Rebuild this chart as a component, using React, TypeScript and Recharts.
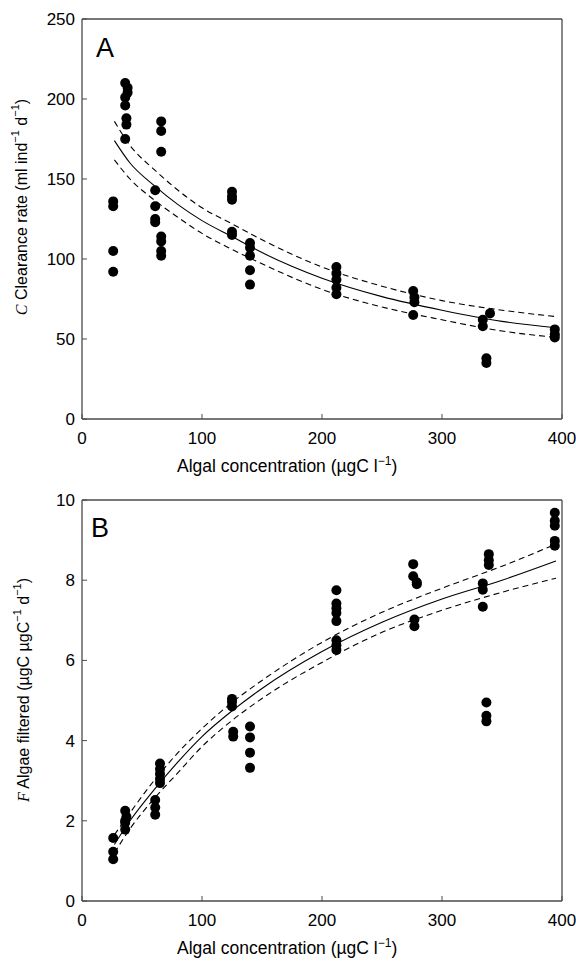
import React from 'react';
import { ComposedChart, Scatter, Line, XAxis, YAxis, Customized } from 'recharts';

const FONT = '"Liberation Sans", Arial, sans-serif';
const SERIF = '"Liberation Serif", "Times New Roman", serif';
const FRAME = '#4a4a4a';

const xTicks = [0, 100, 200, 300, 400];
const clearanceTicks = [0, 50, 100, 150, 200, 250];
const filteredTicks = [0, 2, 4, 6, 8, 10];

// measured points, panel A (x = algal conc, y = clearance rate)
const clearanceX = [
  26, 26, 26, 26,
  36, 38, 38, 36, 36, 37, 37, 36,
  61, 61, 61, 61,
  66, 66, 66, 66, 66, 66, 66,
  125, 125, 125, 125, 125,
  140, 140, 140, 140, 140,
  212, 212, 212, 212, 212,
  276, 277, 277, 276,
  340, 334, 334, 337, 337,
  394, 394, 394,
];
const clearanceY = [
  136, 133, 105, 92,
  210, 207, 204, 201, 196, 188, 184, 175,
  143, 133, 125, 123,
  186, 180, 167, 114, 111, 105, 102,
  142, 139, 137, 117, 115,
  110, 107, 102, 93, 84,
  95, 91, 87, 82, 78,
  80, 76, 73, 65,
  66, 62, 58, 38, 35,
  56, 53, 51,
];

// measured points, panel B (x = algal conc, y = algae filtered)
const filteredX = [
  26, 26, 26,
  36, 37, 36, 36, 36,
  61, 61, 61,
  65, 65, 65, 65, 65,
  125, 125, 125, 126, 126,
  140, 140, 140, 140,
  212, 212, 212, 212, 212, 212, 212, 212,
  276, 276, 279, 279, 277, 277,
  339, 339, 339, 334, 334, 334, 337, 337, 337,
  394, 394, 394, 394, 394,
];
const filteredY = [
  1.57, 1.23, 1.04,
  2.25, 2.1, 2.0, 1.95, 1.78,
  2.52, 2.33, 2.15,
  3.43, 3.29, 3.17, 3.04, 2.94,
  5.04, 4.96, 4.85, 4.22, 4.1,
  4.35, 4.08, 3.7, 3.32,
  7.75, 7.42, 7.3, 7.18, 6.98, 6.5, 6.38, 6.26,
  8.4, 8.1, 7.95, 7.9, 7.02, 6.85,
  8.65, 8.5, 8.38, 7.92, 7.76, 7.34, 4.95, 4.62, 4.48,
  9.68, 9.48, 9.36, 8.98, 8.86,
];

// fitted curve + confidence band
const fitX = [27, 40, 60, 80, 100, 125, 150, 200, 250, 300, 350, 395];
const clearanceFit = [174, 160, 146, 134, 124, 114, 104, 88, 76.5, 68, 61, 57];
const clearanceUpper = [186, 171, 156, 143, 132, 122, 112, 95, 83, 74, 68, 64];
const clearanceLower = [162, 150, 137, 126, 116, 106, 97, 81, 70, 62, 55, 51];
const filteredFit = [1.41, 2.0, 2.77, 3.47, 4.1, 4.74, 5.3, 6.22, 6.95, 7.53, 8.0, 8.48];
const filteredUpper = [1.65, 2.2, 3.0, 3.7, 4.3, 4.95, 5.5, 6.45, 7.2, 7.8, 8.35, 8.9];
const filteredLower = [1.2, 1.8, 2.55, 3.2, 3.85, 4.5, 5.05, 5.95, 6.7, 7.25, 7.7, 8.05];

const toPts = (xs: number[], ys: number[]) => xs.map((x, i) => ({ x, y: ys[i] }));

const Dot = (p: any) => <circle cx={p.cx} cy={p.cy} r={5} fill="#000" />;

const tickStyle = { fill: '#000', fontSize: 17, fontFamily: FONT };

interface PanelProps {
  letter: string;
  height: number;
  top: number;
  bottomH: number;
  yMax: number;
  yTicks: number[];
  points: { x: number; y: number }[];
  fit: { x: number; y: number }[];
  upper: { x: number; y: number }[];
  lower: { x: number; y: number }[];
  yTitle: React.ReactNode;
  titlePos: [number, number];
  letterPos: [number, number];
}

const Panel: React.FC<PanelProps> = (p) => {
  const plotBottom = p.height - p.bottomH;
  const [tx, ty] = p.titlePos;
  const Texts = () => (
    <g fontFamily={FONT} fill="#000">
      <text x={p.letterPos[0]} y={p.letterPos[1]} fontSize={27}>{p.letter}</text>
      <text
        x={tx}
        y={ty}
        fontSize={16}
        textAnchor="middle"
        dominantBaseline="middle"
        transform={`rotate(-90, ${tx}, ${ty})`}
      >
        {p.yTitle}
      </text>
      <text x={177} y={plotBottom + 53} fontSize={17.5}>
        Algal concentration (µgC l<tspan dy={-7} fontSize={12}>−1</tspan>
        <tspan dy={7}>)</tspan>
      </text>
    </g>
  );
  return (
    <ComposedChart width={576} height={p.height} margin={{ top: 0, right: 0, bottom: 0, left: 0 }}>
      <XAxis
        type="number"
        dataKey="x"
        domain={[0, 400]}
        ticks={xTicks}
        interval={0}
        height={p.bottomH}
        tickSize={-5}
        tickMargin={18}
        axisLine={{ stroke: FRAME, strokeWidth: 1.3 }}
        tickLine={{ stroke: FRAME }}
        tick={tickStyle}
      />
      <XAxis
        xAxisId="top"
        orientation="top"
        type="number"
        dataKey="x"
        domain={[0, 400]}
        ticks={xTicks}
        interval={0}
        height={p.top}
        tickSize={-5}
        axisLine={{ stroke: FRAME, strokeWidth: 1.3 }}
        tickLine={{ stroke: FRAME }}
        tick={false}
      />
      <YAxis
        type="number"
        dataKey="y"
        domain={[0, p.yMax]}
        ticks={p.yTicks}
        interval={0}
        width={82}
        tickSize={-5}
        tickMargin={12}
        axisLine={{ stroke: FRAME, strokeWidth: 1.3 }}
        tickLine={{ stroke: FRAME }}
        tick={tickStyle}
      />
      <YAxis
        yAxisId="right"
        orientation="right"
        type="number"
        dataKey="y"
        domain={[0, p.yMax]}
        ticks={p.yTicks}
        interval={0}
        width={14}
        tickSize={-5}
        axisLine={{ stroke: FRAME, strokeWidth: 1.3 }}
        tickLine={{ stroke: FRAME }}
        tick={false}
      />
      <Scatter data={p.points} fill="#000" shape={Dot} isAnimationActive={false} />
      <Line data={p.fit} dataKey="y" type="monotone" stroke="#000" strokeWidth={1.1} dot={false} isAnimationActive={false} />
      <Line data={p.upper} dataKey="y" type="monotone" stroke="#000" strokeWidth={1.1} strokeDasharray="6 4" dot={false} isAnimationActive={false} />
      <Line data={p.lower} dataKey="y" type="monotone" stroke="#000" strokeWidth={1.1} strokeDasharray="6 4" dot={false} isAnimationActive={false} />
      <Customized component={Texts} />
    </ComposedChart>
  );
};

export default function App() {
  return (
    <div style={{ position: 'absolute', left: 0, top: 0, width: 576, height: 963, background: '#fff' }}>
      <Panel
        letter="A"
        height={480}
        top={19}
        bottomH={61}
        yMax={250}
        yTicks={clearanceTicks}
        points={toPts(clearanceX, clearanceY)}
        fit={toPts(fitX, clearanceFit)}
        upper={toPts(fitX, clearanceUpper)}
        lower={toPts(fitX, clearanceLower)}
        titlePos={[23, 207]}
        letterPos={[96, 57]}
        yTitle={
          <>
            <tspan fontFamily={SERIF} fontStyle="italic">C</tspan> Clearance rate (ml ind
            <tspan dy={-7} fontSize={11}>−1</tspan>
            <tspan dy={7}> d</tspan>
            <tspan dy={-7} fontSize={11}>−1</tspan>
            <tspan dy={7}>)</tspan>
          </>
        }
      />
      <Panel
        letter="B"
        height={483}
        top={20}
        bottomH={62}
        yMax={10}
        yTicks={filteredTicks}
        points={toPts(filteredX, filteredY)}
        fit={toPts(fitX, filteredFit)}
        upper={toPts(fitX, filteredUpper)}
        lower={toPts(fitX, filteredLower)}
        titlePos={[25, 210]}
        letterPos={[91, 57]}
        yTitle={
          <>
            <tspan fontFamily={SERIF} fontStyle="italic">F</tspan> Algae filtered (µgC µgC
            <tspan dy={-7} fontSize={11}>−1</tspan>
            <tspan dy={7}> d</tspan>
            <tspan dy={-7} fontSize={11}>−1</tspan>
            <tspan dy={7}>)</tspan>
          </>
        }
      />
    </div>
  );
}
